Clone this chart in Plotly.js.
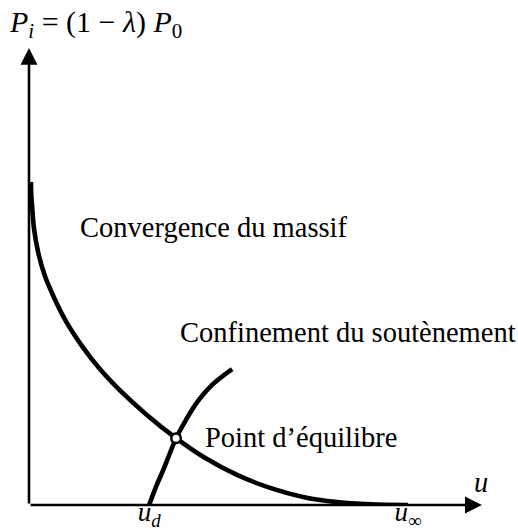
<!DOCTYPE html>
<html>
<head>
<meta charset="utf-8">
<script src="https://cdn.plot.ly/plotly-3.0.1.min.js"></script>
<style>
  html, body { margin: 0; padding: 0; background: #fff; }
  #chart { width: 518px; height: 532px; }
</style>
</head>
<body>
<div id="chart"></div>
<script>
// Convergence-confinement diagram: ground reaction curve and support line.
// Displacement u is scaled so that u_inf = 1, pressure so that P0 = 1.

// Ground reaction curve (convergence du massif)
const convU = [0.005, 0.006, 0.008, 0.013, 0.024, 0.042, 0.069, 0.100, 0.140, 0.187,
               0.240, 0.311, 0.388, 0.464, 0.549, 0.636, 0.723, 0.813, 0.900, 1.000];
const convP = [1.000, 0.960, 0.929, 0.858, 0.783, 0.709, 0.635, 0.564, 0.492, 0.421,
               0.355, 0.279, 0.207, 0.146, 0.093, 0.053, 0.025, 0.009, 0.002, 0.000];

// Support confinement curve (confinement du soutènement)
const suppU = [0.317, 0.335, 0.354, 0.372, 0.388, 0.414, 0.446, 0.483, 0.536];
const suppP = [0.000, 0.056, 0.108, 0.161, 0.207, 0.263, 0.322, 0.372, 0.421];

// Equilibrium point
const eqU = [0.388];
const eqP = [0.207];

// Marked displacements on the u axis
const tickU = [0.317, 1.000];
const tickLabels = ['<i>u</i><sub><i>d</i></sub>', '<i>u</i><sub>∞</sub>'];

// Axis extents (arrow tips)
const uMax = 1.195;
const pMax = 1.415;

const FONT = "'Liberation Serif', 'Times New Roman', serif";
const FS = 28.5;

const traces = [
  {
    x: convU, y: convP, type: 'scatter', mode: 'lines',
    line: { color: '#000', width: 4.6, shape: 'spline', smoothing: 1 },
    cliponaxis: false, hoverinfo: 'skip'
  },
  {
    x: suppU, y: suppP, type: 'scatter', mode: 'lines',
    line: { color: '#000', width: 4.6, shape: 'spline', smoothing: 1 },
    cliponaxis: false, hoverinfo: 'skip'
  },
  {
    x: eqU, y: eqP, type: 'scatter', mode: 'markers',
    marker: { size: 9.5, color: '#fff', line: { color: '#000', width: 2.5 } },
    cliponaxis: false, hoverinfo: 'skip'
  }
];

function axisArrow(x, y) {
  return {
    x: x, y: y, xref: 'x', yref: 'y',
    ax: 0, ay: 0, axref: 'x', ayref: 'y',
    text: '', showarrow: true,
    arrowhead: 2, arrowsize: 1.3, arrowwidth: 2.6, arrowcolor: '#000',
    standoff: 0, startstandoff: 0
  };
}

function label(text, x, y, xanchor) {
  return {
    x: x, y: y, xref: 'x', yref: 'y', text: text, showarrow: false,
    xanchor: xanchor || 'left', yanchor: 'middle',
    font: { family: FONT, size: FS, color: '#000' }
  };
}

const layout = {
  width: 518, height: 532,
  margin: { l: 29, r: 30, t: 40, b: 27, pad: 0 },
  paper_bgcolor: '#fff', plot_bgcolor: '#fff',
  showlegend: false,
  font: { family: FONT, size: FS, color: '#000' },
  title: {
    text: '<i>P</i><sub><i>i</i></sub> = (1 − <i>λ</i>) <i>P</i><sub>0</sub>',
    xref: 'container', yref: 'container',
    x: 10 / 518, xanchor: 'left',
    y: 1 - 21 / 532, yanchor: 'middle',
    font: { family: FONT, size: 30, color: '#000' }
  },
  xaxis: {
    range: [0, 459 / 379],
    showgrid: false, zeroline: false, showline: false,
    ticks: '', tickvals: tickU, ticktext: tickLabels,
    ticklabelstandoff: -12,
    tickfont: { family: FONT, size: 27, color: '#000' },
    fixedrange: true
  },
  yaxis: {
    range: [0, 465 / 323],
    showgrid: false, zeroline: false, showline: false,
    showticklabels: false, ticks: '',
    fixedrange: true
  },
  annotations: [
    axisArrow(uMax, 0),
    axisArrow(0, pMax),
    label('Convergence du massif', 0.129, 0.858),
    label('Confinement du soutènement', 0.393, 0.533),
    label('Point d’équilibre', 0.459, 0.210),
    label('<i>u</i>', 1.193, 0.071, 'center')
  ]
};

Plotly.newPlot('chart', traces, layout, { displayModeBar: false, staticPlot: true });
</script>
</body>
</html>
